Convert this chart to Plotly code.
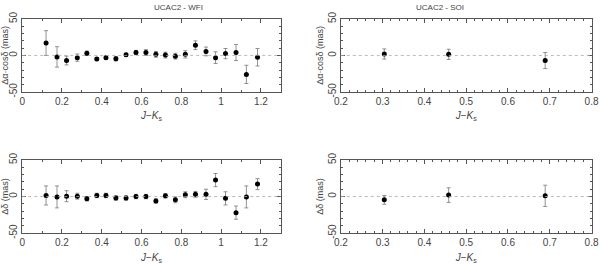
import plotly.graph_objects as go

# UCAC2 - WFI
wfi_jk = [0.12, 0.175, 0.223, 0.277, 0.325, 0.375, 0.421, 0.471, 0.522, 0.572, 0.622,
          0.672, 0.72, 0.77, 0.82, 0.871, 0.924, 0.972, 1.022, 1.075, 1.127, 1.183]
wfi_dra = [17, -2, -7, -3, 3, -5, -3, -4.5, 1, 4, 4, 1.5, 0.5, -1, 1.5, 14, 5.5, -3, 2.5, 4, -26, -2.5]
wfi_dra_err = [17, 14, 6, 5, 3, 2, 2, 3, 2, 3, 4, 4, 4, 4, 5, 6, 6, 8, 7, 11, 12.5, 12]
wfi_dde = [1.5, -0.5, 0.5, 0.5, -3, 1.5, 1.5, -2, -2, 0, 0, -6, 1, -4.5, 2.5, 3, 3, 22.5, -2.5, -22, -0.5, 17]
wfi_dde_err = [13, 15, 7.5, 4, 3, 3, 3, 3, 3, 3, 3, 3, 3, 4, 4, 4, 7, 9, 9, 9, 15, 7.5]

# UCAC2 - SOI
soi_jk = [0.304, 0.458, 0.689]
soi_dra = [2, 1.5, -7]
soi_dra_err = [7, 7, 11]
soi_dde = [-4.5, 2, 1]
soi_dde_err = [6, 10, 14.5]

titles = ["UCAC2 - WFI", "UCAC2 - SOI"]
ytitles = ["Δα·cosδ (mas)", "Δδ (mas)"]
yticks = [-50, 0, 50]
wfi_xticks = [0, 0.2, 0.4, 0.6, 0.8, 1, 1.2]
soi_xticks = [0.2, 0.3, 0.4, 0.5, 0.6, 0.7, 0.8]

FONT = "Liberation Sans"
TXT = "#444"
AX = "#555"

fig = go.Figure()

panels = [
    (wfi_jk, wfi_dra, wfi_dra_err, 1),
    (soi_jk, soi_dra, soi_dra_err, 2),
    (wfi_jk, wfi_dde, wfi_dde_err, 3),
    (soi_jk, soi_dde, soi_dde_err, 4),
]

xdom = {1: [0.037, 0.468], 2: [0.568, 0.986], 3: [0.037, 0.468], 4: [0.568, 0.986]}
ydom = {1: [0.652, 0.928], 2: [0.652, 0.928], 3: [0.117, 0.394], 4: [0.117, 0.394]}

for x, y, e, i in panels:
    sfx = "" if i == 1 else str(i)
    fig.add_trace(go.Scatter(
        x=x, y=y, mode="markers",
        marker=dict(color="black", size=5, symbol="circle"),
        error_y=dict(type="data", array=e, color="#777", thickness=0.8, width=2),
        xaxis="x" + sfx, yaxis="y" + sfx, showlegend=False,
    ))
    left = i in (1, 3)
    xr = [0, 1.3] if left else [0.1999, 0.8001]
    xt = wfi_xticks if left else soi_xticks
    xmin = 0.1 if left else 0.02
    fig.layout["xaxis" + sfx] = dict(
        domain=xdom[i], range=xr, anchor="y" + sfx, automargin=False,
        showline=True, linecolor=AX, linewidth=1, mirror="allticks",
        ticks="inside", ticklen=4, tickcolor=AX, tickwidth=1,
        tickvals=xt, ticktext=[f"{v:g}" for v in xt], showgrid=False, zeroline=False,
        ticklabeloverflow="allow",
        minor=dict(dtick=xmin, tick0=0, ticks="inside", ticklen=2, tickcolor=AX, showgrid=False),
        tickfont=dict(family=FONT, size=10, color=TXT),
        title=dict(text="<i>J</i>−<i>K</i><sub>s</sub>", font=dict(family=FONT, size=10, color=TXT), standoff=6),
    )
    fig.layout["yaxis" + sfx] = dict(
        domain=ydom[i], range=[-50, 50], anchor="x" + sfx, automargin=False,
        showline=True, linecolor=AX, linewidth=1, mirror="allticks",
        ticks="inside", ticklen=4, tickcolor=AX, tickwidth=1,
        tickvals=yticks, ticktext=[str(v) for v in yticks], tickangle=-90,
        showgrid=False, zeroline=False,
        minor=dict(dtick=10, ticks="inside", ticklen=2, tickcolor=AX, showgrid=False),
        tickfont=dict(family=FONT, size=10, color=TXT),
        title=dict(text=ytitles[0] if i in (1, 2) else ytitles[1],
                   font=dict(family=FONT, size=9, color=TXT), standoff=1),
    )
    fig.add_shape(type="line", xref="x" + sfx + " domain", yref="y" + sfx,
                  x0=0, x1=1, y0=0, y1=0, line=dict(color="#aaa", width=0.8, dash="dot"))

for t, xd in zip(titles, [xdom[1], xdom[2]]):
    fig.add_annotation(text=t, xref="paper", yref="paper", x=(xd[0] + xd[1]) / 2, y=1.0,
                       yanchor="top", showarrow=False, yshift=-1,
                       font=dict(family=FONT, size=8, color=TXT))

fig.update_layout(width=600, height=264, margin=dict(l=0, r=0, t=0, b=0, autoexpand=False),
                  paper_bgcolor="white", plot_bgcolor="white")
fig.write_html("out.html", config={"responsive": False, "displayModeBar": False},
               post_script="document.body.style.margin='0';document.body.style.overflow='hidden';")
